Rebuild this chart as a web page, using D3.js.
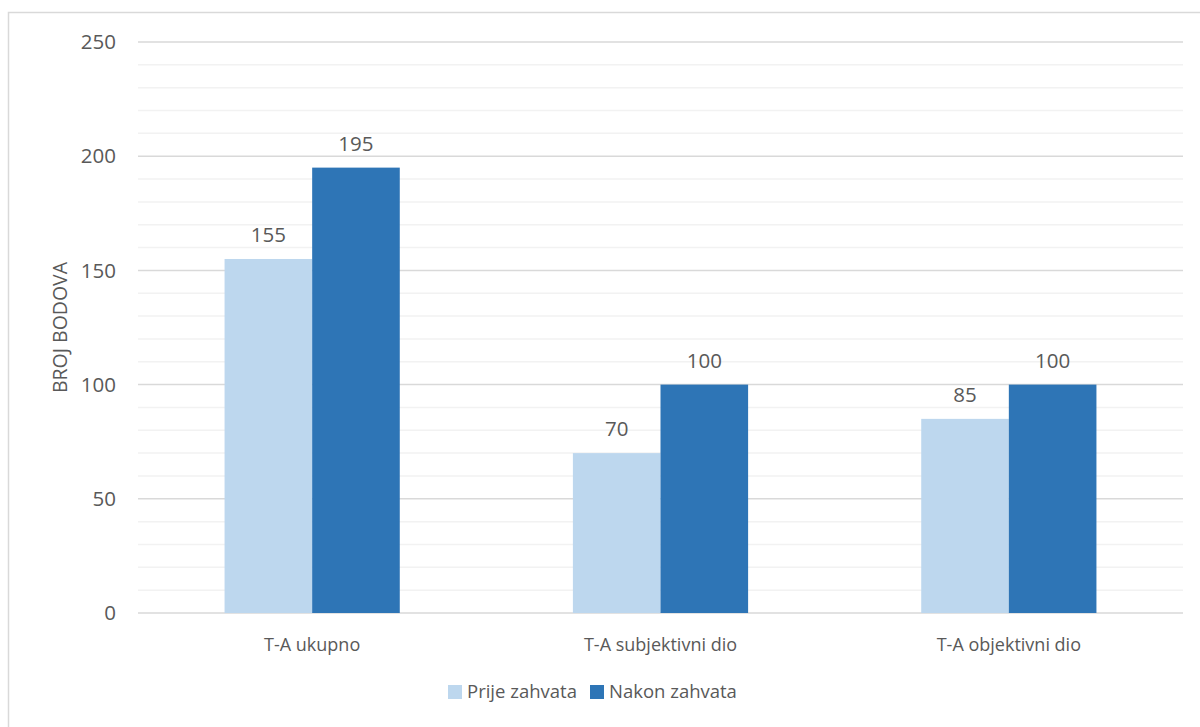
<!DOCTYPE html>
<html>
<head>
<meta charset="utf-8">
<script src="https://cdn.jsdelivr.net/npm/d3@7"></script>
<style>
  body { margin: 0; background: #fff; }
  text { font-family: "Open Sans", "DejaVu Sans", sans-serif; fill: #595959; }
</style>
</head>
<body>
<div id="chart"></div>
<script>
const categories = ["T-A ukupno", "T-A subjektivni dio", "T-A objektivni dio"];
const seriesNames = ["Prije zahvata", "Nakon zahvata"];
const prije = [155, 70, 85];
const nakon = [195, 100, 100];
const yTicks = [0, 50, 100, 150, 200, 250];
const colors = ["#bdd7ee", "#2e75b6"];

const w = 1200, h = 727;
const margin = { left: 138, right: 17, top: 42, bottom: 114 };

const svg = d3.select("#chart").append("svg")
  .attr("width", w).attr("height", h);

// outer border
svg.append("rect")
  .attr("x", 8.5).attr("y", 12.5)
  .attr("width", w).attr("height", h)
  .attr("fill", "none").attr("stroke", "#d9d9d9").attr("stroke-width", 1.5);

const x = d3.scaleBand().domain(categories)
  .range([margin.left, w - margin.right]);
const y = d3.scaleLinear().domain([0, 250])
  .range([h - margin.bottom, margin.top]);

const x1 = d3.scaleBand().domain(seriesNames)
  .range([0, x.bandwidth() * 0.503]);

// minor grid
svg.append("g").selectAll("line")
  .data(d3.range(10, 250, 10).filter(v => v % 50 != 0))
  .enter().append("line")
  .attr("x1", margin.left).attr("x2", w - margin.right)
  .attr("y1", d => y(d)).attr("y2", d => y(d))
  .attr("stroke", "#f2f2f2").attr("stroke-width", 1.5);

// major grid
svg.append("g").selectAll("line")
  .data(yTicks)
  .enter().append("line")
  .attr("x1", margin.left).attr("x2", w - margin.right)
  .attr("y1", d => y(d)).attr("y2", d => y(d))
  .attr("stroke", "#d9d9d9").attr("stroke-width", 1.5);

// y tick labels
svg.append("g").selectAll("text")
  .data(yTicks)
  .enter().append("text")
  .attr("x", margin.left - 22)
  .attr("y", d => y(d))
  .attr("dy", "0.35em")
  .attr("text-anchor", "end")
  .style("font-size", "20.5px")
  .text(d => d);

// y axis title
svg.append("text")
  .attr("transform", "translate(67," + ((y(0) + y(250)) / 2) + ") rotate(-90)")
  .attr("text-anchor", "middle")
  .style("font-size", "19.5px")
  .text("BROJ BODOVA");

const rows = categories.map((c, i) => ({ cat: c, vals: [prije[i], nakon[i]] }));

const groups = svg.append("g").selectAll("g")
  .data(rows)
  .enter().append("g")
  .attr("transform", d => "translate(" + (x(d.cat) + x.bandwidth() / 2 - x1.range()[1] / 2) + ",0)");

groups.selectAll("rect")
  .data(d => d.vals.map((v, j) => ({ s: seriesNames[j], v: v, j: j })))
  .enter().append("rect")
  .attr("x", d => x1(d.s))
  .attr("width", x1.bandwidth())
  .attr("y", d => y(d.v))
  .attr("height", d => y(0) - y(d.v))
  .attr("fill", d => colors[d.j]);

groups.selectAll("text")
  .data(d => d.vals.map((v, j) => ({ s: seriesNames[j], v: v })))
  .enter().append("text")
  .attr("x", d => x1(d.s) + x1.bandwidth() / 2)
  .attr("y", d => y(d.v) - 17)
  .attr("text-anchor", "middle")
  .style("font-size", "20.5px")
  .text(d => d.v);

// category labels
svg.append("g").selectAll("text")
  .data(categories)
  .enter().append("text")
  .attr("x", d => x(d) + x.bandwidth() / 2)
  .attr("y", y(0) + 38)
  .attr("text-anchor", "middle")
  .style("font-size", "18px")
  .text(d => d);

// legend
const legendX = [448, 590];
const legend = svg.append("g").selectAll("g")
  .data(seriesNames)
  .enter().append("g")
  .attr("transform", (d, i) => "translate(" + legendX[i] + ",685)");
legend.append("rect")
  .attr("width", 14).attr("height", 14)
  .attr("fill", (d, i) => colors[i]);
legend.append("text")
  .attr("x", 19).attr("y", 7).attr("dy", "0.35em")
  .style("font-size", "18.5px")
  .text(d => d);
</script>
</body>
</html>
